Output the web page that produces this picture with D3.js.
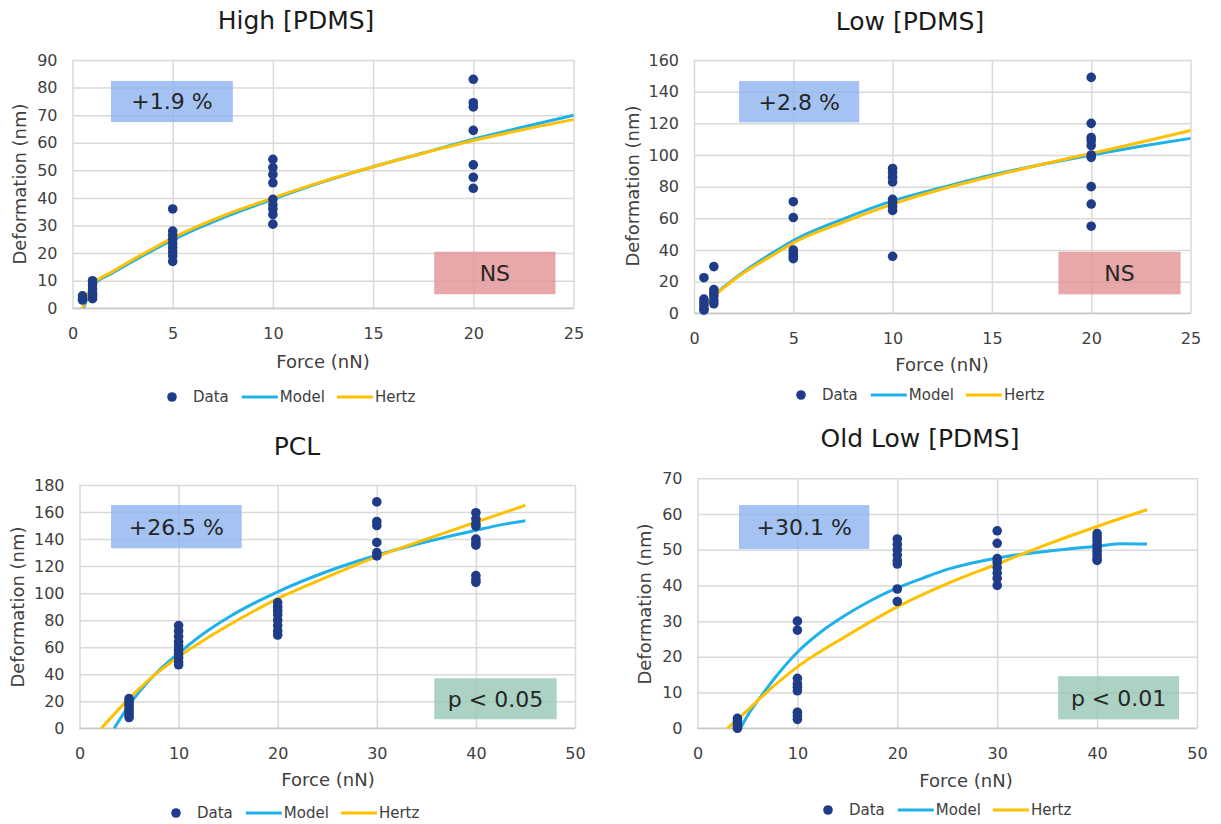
<!DOCTYPE html>
<html><head><meta charset="utf-8">
<script src="https://cdn.jsdelivr.net/npm/d3@7"></script>
<style>
body{margin:0;background:#fff}
svg{display:block}
text{font-family:"DejaVu Sans",Verdana,sans-serif}
</style>
</head><body>
<svg id="c" width="1221" height="824"></svg>
<script>
// ---------- DATA ----------
const seriesNames = ["Data", "Model", "Hertz"];

// High [PDMS]
const highTicksX = [0, 5, 10, 15, 20, 25];
const highTicksY = [0, 10, 20, 30, 40, 50, 60, 70, 80, 90];
const highData = [
  [0.5, [4.5, 3.5, 3]],
  [1, [10, 8.5, 7, 5.5, 4.5, 3.5]],
  [5, [36, 28, 26.5, 25, 23.5, 22, 20.5, 19, 17]],
  [10, [54, 51, 48.5, 45.5, 39.5, 37.5, 36, 34, 30.5]],
  [20, [83, 74.5, 73, 64.5, 52, 47.5, 43.5]]
];
const highModel = [[0.55,0],[1,8],[2,12.8],[3,17],[4,21],[5,24.8],[7.5,32.8],[10,39.5],[12.5,45.8],[15,51.3],[17.5,56.3],[20,61.3],[22.5,65.7],[25,70]];
const highHertz = [[0.5,0],[1,8.5],[2,13.3],[3,17.6],[4,21.6],[5,25.5],[7.5,33.5],[10,40],[12.5,46],[15,51.3],[17.5,56.2],[20,60.8],[22.5,64.8],[25,68.4]];

// Low [PDMS]
const lowTicksX = [0, 5, 10, 15, 20, 25];
const lowTicksY = [0, 20, 40, 60, 80, 100, 120, 140, 160];
const lowData = [
  [0.5, [22.5, 9, 7, 5, 3, 2]],
  [1, [29.5, 15, 13, 11, 8, 6]],
  [5, [70.5, 60.5, 40, 38, 36, 34.5]],
  [10, [91.5, 89, 86, 83, 72, 70, 67.5, 65, 36]],
  [20, [149, 120, 111, 109, 106, 100, 98.5, 80, 69, 55]]
];
const lowModel = [[0.35,0],[0.7,7],[1.25,14],[2,21.5],[3,30.5],[4,38.5],[5,46],[7.5,59.5],[10,71],[12.5,79.5],[15,87.4],[17.5,94],[20,100],[22.5,105.5],[25,110.5]];
const lowHertz = [[0.35,0],[0.7,6.5],[1.25,13.5],[2,21],[3,29.5],[4,37],[5,44.5],[7.5,57.5],[10,69],[12.5,78.5],[15,86.6],[17.5,94],[20,101],[22.5,108],[25,115.5]];

// PCL
const pclTicksX = [0, 10, 20, 30, 40, 50];
const pclTicksY = [0, 20, 40, 60, 80, 100, 120, 140, 160, 180];
const pclData = [
  [5, [22, 20, 18, 16, 14, 12, 10, 8]],
  [10, [76, 72, 68, 64, 61, 58, 55, 52, 49, 47]],
  [20, [93, 90, 87, 84, 80, 76, 72, 69]],
  [30, [167.5, 153, 150, 137.5, 130, 127.5]],
  [40, [159.5, 155, 151.5, 149.5, 140, 137.5, 135.5, 113, 110, 108]]
];
const pclModel = [[3.5,0],[5,17],[7.5,39],[10,55.5],[12.5,70],[15,82],[20,101],[25,116],[30,128],[35,138],[40,146.5],[42.5,150.5],[45,153.5]];
const pclHertz = [[2.2,0],[5,22],[7.5,39],[10,53],[12.5,65],[15,76],[20,96],[25,112],[30,127],[35,140],[40,152.5],[45,165]];

// Old Low [PDMS]
const oldTicksX = [0, 10, 20, 30, 40, 50];
const oldTicksY = [0, 10, 20, 30, 40, 50, 60, 70];
const oldData = [
  [4, [2.8, 2, 1.2, 0.5, 0]],
  [10, [30, 27.5, 14, 12.5, 11.5, 10.5, 4.5, 3.5, 2.5]],
  [20, [53, 51.5, 50, 48.5, 47, 46, 39, 35.5]],
  [30, [55.3, 51.8, 47.5, 46.5, 45, 43.5, 42, 40]],
  [40, [54.5, 53.5, 52.5, 51.5, 50.5, 49.5, 48.5, 47.5, 47]]
];
const oldModel = [[4.3,0],[5,3.5],[6.5,9.5],[8,15],[10,21.3],[12.5,27.3],[15,32],[17.5,36],[20,39.3],[22.5,42],[25,44.5],[30,47.7],[35,49.6],[40,51],[42.5,51.7],[45,51.6]];
const oldHertz = [[3,0],[5,5],[6.5,9],[10,17.2],[15,26],[20,34],[25,40.5],[30,46],[35,51.5],[40,56.5],[45,61.2]];

// Annotation labels
const annotations = {
  high: ["+1.9 %", "NS"],
  low: ["+2.8 %", "NS"],
  pcl: ["+26.5 %", "p < 0.05"],
  old: ["+30.1 %", "p < 0.01"]
};

// ---------- STYLE / LAYOUT ----------
const C = {dot:"#1f3c88", model:"#1eb1ea", hertz:"#ffc000", grid:"#d9d9d9",
  blue:"rgb(141,180,239)", pink:"rgb(226,146,149)", green:"rgb(151,199,181)"};

const panels = [
  {title:"High [PDMS]", data:highData, model:highModel, hertz:highHertz, tx:highTicksX, ty:highTicksY,
   plot:{l:72.5,r:573.5,t:60,b:308.3}, titleXY:[296,29], xt:[323,368], yt:[20,184], leg:[172,397],
   boxes:[{x:[1.92,8],y:[67.5,82.4],fill:C.blue,text:annotations.high[0]},
          {x:[18.05,24.1],y:[5.1,20.5],fill:C.pink,text:annotations.high[1]}]},
  {title:"Low [PDMS]", data:lowData, model:lowModel, hertz:lowHertz, tx:lowTicksX, ty:lowTicksY,
   plot:{l:694,r:1190.5,t:60,b:313.3}, titleXY:[910,30], xt:[942,371], yt:[633,186], leg:[801,395],
   boxes:[{x:[2.27,8.32],y:[120.6,146.7],fill:C.blue,text:annotations.low[0]},
          {x:[18.35,24.5],y:[12,38.9],fill:C.pink,text:annotations.low[1]}]},
  {title:"PCL", data:pclData, model:pclModel, hertz:pclHertz, tx:pclTicksX, ty:pclTicksY,
   plot:{l:79.5,r:575,t:485,b:728.3}, titleXY:[297,455], xt:[328,786], yt:[18,607], leg:[176,813],
   boxes:[{x:[3.18,16.37],y:[133.2,165.2],fill:C.blue,text:annotations.pcl[0]},
          {x:[35.8,48.15],y:[6.7,37],fill:C.green,text:annotations.pcl[1]}]},
  {title:"Old Low [PDMS]", data:oldData, model:oldModel, hertz:oldHertz, tx:oldTicksX, ty:oldTicksY,
   plot:{l:697.5,r:1197,t:478.3,b:728.3}, titleXY:[920,447], xt:[966,787], yt:[645,604], leg:[828,810],
   boxes:[{x:[4.15,17.2],y:[50.2,62.5],fill:C.blue,text:annotations.old[0]},
          {x:[36.1,48.2],y:[2.5,14.6],fill:C.green,text:annotations.old[1]}]}
];

const svg = d3.select("#c");

panels.forEach(p => {
  const P = p.plot;
  const x = d3.scaleLinear().domain(d3.extent(p.tx)).range([P.l, P.r]);
  const y = d3.scaleLinear().domain(d3.extent(p.ty)).range([P.b, P.t]);
  const g = svg.append("g");

  // title
  g.append("text").attr("x", p.titleXY[0]).attr("y", p.titleXY[1]).attr("text-anchor","middle")
    .attr("font-size", 25).attr("fill", "#1a1a1a").text(p.title);

  // gridlines + axes
  const ya = g.append("g").attr("transform", `translate(${P.l},0)`)
    .call(d3.axisLeft(y).tickValues(p.ty).tickSize(-(P.r-P.l)).tickPadding(15));
  const xa = g.append("g").attr("transform", `translate(0,${P.b})`)
    .call(d3.axisBottom(x).tickValues(p.tx).tickSize(-(P.b-P.t)).tickPadding(19));
  [ya, xa].forEach(a => {
    a.select(".domain").remove();
    a.selectAll("line").attr("stroke", C.grid).attr("stroke-width", 1.5);
    a.selectAll("text").attr("font-size", 16).attr("fill", "#404040")
      .style("font-family", '"DejaVu Sans",Verdana,sans-serif');
  });
  g.append("line").attr("x1",P.l).attr("x2",P.r).attr("y1",P.b).attr("y2",P.b)
    .attr("stroke","#c8c8c8").attr("stroke-width",1.5);

  // axis titles
  g.append("text").attr("x", p.xt[0]).attr("y", p.xt[1]).attr("text-anchor","middle")
    .attr("font-size", 18).attr("fill","#404040").text("Force (nN)");
  g.append("text").attr("transform", `translate(${p.yt[0]},${p.yt[1]}) rotate(-90)`)
    .attr("text-anchor","middle").attr("dy","0.35em")
    .attr("font-size", 18).attr("fill","#404040").text("Deformation (nm)");

  // annotation boxes
  p.boxes.forEach(b => {
    g.append("rect").attr("x", x(b.x[0])).attr("y", y(b.y[1]))
      .attr("width", x(b.x[1]) - x(b.x[0])).attr("height", y(b.y[0]) - y(b.y[1]))
      .attr("fill", b.fill).attr("fill-opacity", 0.8);
    g.append("text").attr("x", (x(b.x[0]) + x(b.x[1]))/2).attr("y", (y(b.y[0]) + y(b.y[1]))/2)
      .attr("dy","0.36em").attr("text-anchor","middle").attr("font-size", 22).attr("fill","#262626")
      .text(b.text);
  });

  // curves
  const line = d3.line().x(d => x(d[0])).y(d => y(d[1])).curve(d3.curveMonotoneX);
  g.append("path").datum(p.model).attr("d", line).attr("fill","none")
    .attr("stroke", C.model).attr("stroke-width", 3);
  g.append("path").datum(p.hertz).attr("d", line).attr("fill","none")
    .attr("stroke", C.hertz).attr("stroke-width", 3);

  // data points
  const pts = p.data.flatMap(([f, ds]) => ds.map(d => [f, d]));
  g.selectAll("circle.pt").data(pts).join("circle").attr("class","pt")
    .attr("cx", d => x(d[0])).attr("cy", d => y(d[1])).attr("r", 4.8).attr("fill", C.dot);

  // legend
  const L = g.append("g");
  let lx = p.leg[0], ly = p.leg[1];
  L.append("circle").attr("cx", lx).attr("cy", ly).attr("r", 4.8).attr("fill", C.dot);
  let t = L.append("text").attr("x", lx + 21).attr("y", ly).attr("dy","0.35em")
    .attr("font-size", 15).attr("fill","#404040").text(seriesNames[0]);
  lx = lx + 21 + t.node().getComputedTextLength() + 13;
  [[seriesNames[1], C.model], [seriesNames[2], C.hertz]].forEach(([nm, col]) => {
    L.append("line").attr("x1", lx).attr("x2", lx + 36).attr("y1", ly).attr("y2", ly)
      .attr("stroke", col).attr("stroke-width", 3);
    const tt = L.append("text").attr("x", lx + 38).attr("y", ly).attr("dy","0.35em")
      .attr("font-size", 15).attr("fill","#404040").text(nm);
    lx = lx + 38 + tt.node().getComputedTextLength() + 12;
  });
});
</script>
</body></html>
